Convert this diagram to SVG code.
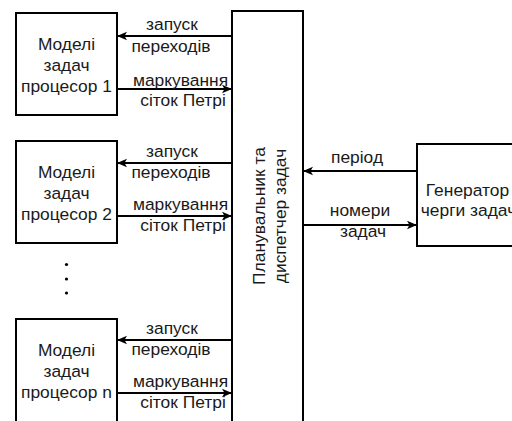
<svg xmlns="http://www.w3.org/2000/svg" width="512" height="421" viewBox="0 0 512 421">
  <defs>
    <marker id="arrow" viewBox="0 0 10 10" refX="9" refY="5" markerWidth="10" markerHeight="10" markerUnits="userSpaceOnUse" orient="auto">
      <path d="M0,0.8 L10,5 L0,9.2 L2.5,5 Z" fill="#000"/>
    </marker>
    <style>
      .box { fill: #fff; stroke: #000; stroke-width: 2; }
      .lbl { font-family: "Liberation Sans", Arial, sans-serif; font-size: 17.4px; fill: #1a1a1a; text-anchor: middle; }
      .edge { stroke: #000; stroke-width: 2; fill: none; marker-end: url(#arrow); }
    </style>
  </defs>
  <rect width="512" height="421" fill="#fff"/>

  <!-- processor task models -->
  <g id="proc1">
    <rect class="box" x="16" y="13" width="101" height="102"/>
    <text class="lbl" x="66.5" y="50">Моделі</text>
    <text class="lbl" x="66.5" y="71">задач</text>
    <text class="lbl" x="66.5" y="92">процесор 1</text>
  </g>
  <g id="proc2">
    <rect class="box" x="16" y="141" width="101" height="102"/>
    <text class="lbl" x="66.5" y="178">Моделі</text>
    <text class="lbl" x="66.5" y="199">задач</text>
    <text class="lbl" x="66.5" y="220">процесор 2</text>
  </g>
  <g id="procn">
    <rect class="box" x="16" y="319" width="101" height="110"/>
    <text class="lbl" x="66.5" y="356">Моделі</text>
    <text class="lbl" x="66.5" y="377">задач</text>
    <text class="lbl" x="66.5" y="398">процесор n</text>
  </g>

  <!-- ellipsis between processors -->
  <g id="ellipsis" fill="#000">
    <circle cx="66.5" cy="264.5" r="1.6"/>
    <circle cx="66.5" cy="279" r="1.6"/>
    <circle cx="66.5" cy="293" r="1.6"/>
  </g>

  <!-- scheduler and dispatcher -->
  <g id="scheduler">
    <rect class="box" x="232" y="11" width="71" height="420"/>
    <text class="lbl" transform="translate(265,216) rotate(-90)">Планувальник та</text>
    <text class="lbl" transform="translate(286,216) rotate(-90)">диспетчер задач</text>
  </g>

  <!-- task queue generator -->
  <g id="generator">
    <rect class="box" x="417" y="144" width="102" height="102"/>
    <text class="lbl" x="467.5" y="196">Генератор</text>
    <text class="lbl" x="468.5" y="216">черги задач</text>
  </g>

  <!-- connectors -->
  <g id="connectors">
    <path class="edge" d="M232,36 H118"/>
    <path class="edge" d="M117,89 H231"/>
    <path class="edge" d="M232,163 H118"/>
    <path class="edge" d="M117,216 H231"/>
    <path class="edge" d="M232,340 H118"/>
    <path class="edge" d="M117,393 H231"/>
    <path class="edge" d="M417,171 H304"/>
    <path class="edge" d="M303,225 H416"/>
  </g>

  <!-- connector labels -->
  <g id="edge-labels">
    <text class="lbl" x="172" y="30">запуск</text>
    <text class="lbl" x="171" y="51.5">переходів</text>
    <text class="lbl" x="180.5" y="85.5">маркування</text>
    <text class="lbl" x="183" y="106">сіток Петрі</text>

    <text class="lbl" x="172" y="157">запуск</text>
    <text class="lbl" x="171" y="178">переходів</text>
    <text class="lbl" x="180.5" y="210">маркування</text>
    <text class="lbl" x="183" y="230.5">сіток Петрі</text>

    <text class="lbl" x="172" y="333.5">запуск</text>
    <text class="lbl" x="171" y="354.5">переходів</text>
    <text class="lbl" x="180.5" y="387">маркування</text>
    <text class="lbl" x="183" y="408">сіток Петрі</text>

    <text class="lbl" x="357" y="163">період</text>
    <text class="lbl" x="360" y="216">номери</text>
    <text class="lbl" x="363" y="237">задач</text>
  </g>
</svg>
